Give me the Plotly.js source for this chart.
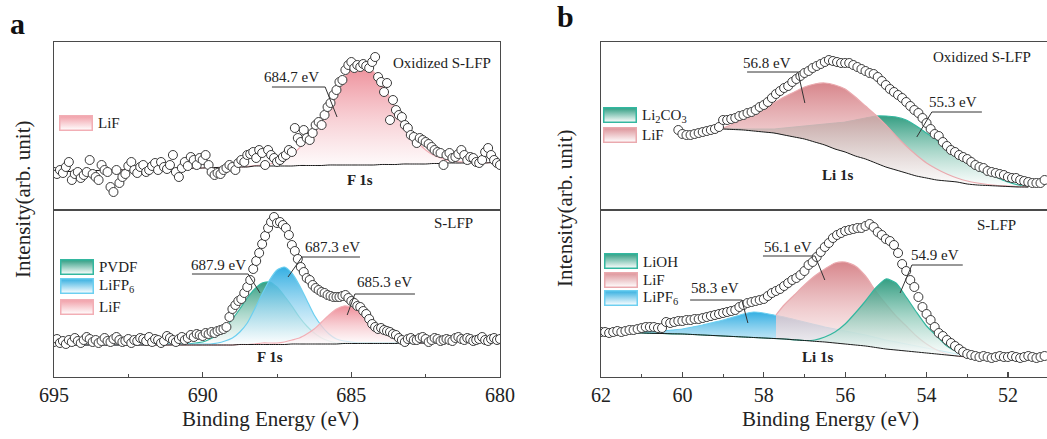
<!DOCTYPE html>
<html><head><meta charset="utf-8">
<script src="https://cdn.plot.ly/plotly-3.0.1.min.js"></script>
<style>html,body{margin:0;padding:0;background:#fff}#chart{width:1047px;height:439px}</style>
</head><body><div id="chart"></div>
<script>
const W = 1047, H = 439;
const FONT = "'Liberation Serif','Times New Roman',serif";

// ================= Panel a : F 1s =================
const aEnergyStart = 695;
const aEnergyStep = -0.1;
const aTopIntensity = [
 38,36,40,37,43,48,30,36,38,32,
 35,38,50,36,33,30,45,40,38,23,
 18,40,27,33,36,44,48,40,37,43,
 45,38,40,44,47,40,48,43,41,45,
 55,38,33,42,48,44,53,50,45,52,
 50,55,45,38,35,37,36,40,42,45,
 43,40,47,50,48,55,56,58,52,60,
 57,45,60,55,52,48,50,53,55,60,
 58,82,72,68,80,72,70,77,85,88,
 85,95,103,107,115,120,128,130,140,145,
 148,142,145,143,146,144,142,148,153,133,
 128,118,127,90,110,100,95,93,85,82,
 75,73,67,72,70,68,66,63,60,58,
 57,45,55,57,52,53,56,60,55,50,
 53,52,48,47,50,58,62,55,50,47,
 45];
const aBotIntensity = [
 35,38,34,36,33,37,35,39,36,34,
 37,40,38,35,37,34,36,39,36,35,
 38,40,37,35,36,38,34,37,36,39,
 38,36,40,35,38,37,34,36,41,39,
 37,35,38,40,37,39,42,40,43,42,
 41,44,43,45,44,46,47,48,50,60,
 68,72,76,78,84,90,97,108,116,124,
 133,141,149,155,160,154,155,152,149,142,
 132,126,118,110,105,99,97,92,89,87,
 85,84,82,81,80,80,80,81,82,79,
 76,74,71,70,66,63,58,53,50,48,
 49,47,46,45,43,42,39,37,35,38,
 39,37,37,39,40,38,35,37,39,38,
 36,37,38,37,36,39,40,38,37,39,
 38,36,37,38,40,37,36,38,39,37,
 38];
const aTopFitEnergy = [695,693,691,690,689,688.75,688.5,688.25,688,687.75,687.5,687.25,687,686.75,686.5,686.25,686,685.75,685.5,685.25,685,684.75,684.5,684.25,684,683.75,683.5,683.25,683,682.75,682.5,682.25,682,681.75,681.5,681.25,681,680.75,680.5,680.25,680];
const aTopBaseline = [38,40,41,42,43,43,43,44,44,44,44,44,44,44.5,44.5,44.5,44.5,45,45,45,45,45,45,45,45.5,45.5,45.5,46,46,46,46,46.5,46.5,47,47,47,47,47,47,47.5,47.5];
const aTopLiF = [38,40,41,42,43,43,43.5,44.5,45,46,48,51,55,62,70,81,94,108,121,132,141,145,144,138,128,115,101,88,76,67,60,55,52,49.5,48.5,48,47.5,47,47,47.5,47.5];

const aBotFitEnergy = [695,693,691,690.75,690.5,690.25,690,689.75,689.5,689.25,689,688.75,688.5,688.25,688,687.75,687.5,687.25,687,686.75,686.5,686.25,686,685.75,685.5,685.25,685,684.75,684.5,684.25,684,683.75,683.5,683.25,683,682.75,682.5,682.25,682];
const aBotBaseline = [32,32,32,32,32,32,32,32,32,32,32,32.5,32.5,32.5,32.5,32.5,32.5,32.5,33,33,33,33,33,33,33,33.5,33.5,33.5,33.5,33.5,33.5,33.5,33.5,34,34,34,34,34,34];
const aBotPVDF = [32,32,33,33,33,34,35,38,42,49,58,68,79,88,94,95,90,81,71,60,51,44,39,36,34,34,34,34,34,34,34,34,34,34,34,34,34,34,34];
const aBotLiFP6 = [32,32,33,33,33,33,33,33,34,36,39,45,54,68,83,97,107,110,104,92,77,62,51,43,38,36,35,34,34,34,34,34,34,34,34,34,34,34,34];
const aBotLiF = [32,32,32,32,32,32,32,32,32,32,32,32.5,32.5,33,34,34,34,35,37,39,43,48,55,62,68,71,70,67,61,54,47,42,38,36,35,34,34,34,34];

// ================= Panel b : Li 1s =================
const bTopEnergyStart = 60.1;
const bBotEnergyStart = 62.0;
const bEnergyStep = -0.1;
const bTopIntensity = [
 80,76,75,75,76,77,78,79,80,81,
 83,90,90,91,92,94,95,97,98,100,
 103,105,108,112,116,119,122,124,128,131,
 134,137,139,142,144,146,148,150,149,148,
 147,147,147,145,143,141,139,137,136,133,
 129,125,121,118,115,112,108,104,100,97,
 92,87,81,76,74,68,64,60,58,55,
 53,51,48,45,43,42,39,38,37,36,
 35,33,32,32,30,29,28,27,27,27,
 30];
const bBotIntensity = [
 45,45,44,45,46,45,46,47,47,48,
 49,50,50,50,49,49,55,54,55,56,
 56,57,57,58,58,59,60,61,62,63,
 64,65,66,67,70,72,74,75,76,77,
 78,81,84,86,88,91,94,97,99,102,
 106,112,115,120,125,130,134,139,142,144,
 146,147,148,149,149,151,153,150,145,142,
 138,136,132,124,113,106,97,90,80,70,
 63,57,50,44,41,37,34,31,28,25,
 23,22,21,20,21,20,19,20,21,20,
 20,21,20,19,20,21,20,19,20,21];
const bTopFitEnergy = [59,58.75,58.5,58.25,58,57.75,57.5,57.25,57,56.75,56.5,56.25,56,55.75,55.5,55.25,55,54.75,54.5,54.25,54,53.75,53.5,53.25,53,52.75,52.5,52.25,52,51.75,51.5];
const bTopBaseline = [81,80.5,80,79,78,77,75,73,71,68,65,61,58,54,51,47,43,40,37,34,32,30,29,28,26,25,24.5,24,23.5,23,23];
const bTopLiF = [82,86,91,96,101,107,113,118,123,126,127,125,121,113,104,95,85,74,64,55,47,41,36,32,29,27,25.5,24.5,24,23.5,23];
const bTopLi2CO3 = [82,81.5,81,81,81,81,82,83,84,85,86,87,88,90,92,94,94,93,90,84,77,70,61,54,47,40,36,32,28,25,23];

const bBotFitEnergy = [61.5,61.25,61,60.75,60.5,60.25,60,59.75,59.5,59.25,59,58.75,58.5,58.25,58,57.75,57.5,57.25,57,56.75,56.5,56.25,56,55.75,55.5,55.25,55,54.75,54.5,54.25,54,53.75,53.5,53.25,53];
const bBotBaseline = [44,44,44,43.7,43.5,43.2,43,42.5,42,41.5,41,40.5,40,39.5,39,38.5,38,37.2,36.5,35.7,35,34,33,32,31,29.5,28,27,26,25,24,23,22,21,20];
const bBotLiPF6 = [44,44.5,45,45.5,46,47,48,50,52,54.5,57,60,63,65,64,62,60,57.5,55,52.5,50,48,46,44,42,39.5,37,35,33,31,29,27,25,23,21];
const bBotLiOH = [44,44,44,43.7,43.5,43.2,43,42.5,42,41.5,41,40.5,40,39.5,39,38.5,38,37.2,36.5,37,40,45,53,64,76,89,98,94,80,65,51,41,31,25,21];
const bBotLiFEnergy = [57.7,57.5,57.25,57,56.75,56.5,56.25,56,55.75,55.5,55.25,55,54.75,54.5,54.25,54,53.75,53.5,53.25,53];
const bBotLiFBaseline = [38.4,38,37.2,36.5,35.7,35,34,33,32,31,29.5,28,27,26,25,24,23,22,21,20];
const bBotLiF = [62,72,82,92,101,108,114,115,111,101,86,73,61,51,41,33,27,23,21,20];

// ================= styling =================
const COL = {
  pink: {rgb:'236,132,144', mid:'246,196,202', edge:'#f2aeb5', sw:'#f19ea7'},
  rose: {rgb:'212,124,130', mid:'236,192,195', edge:'#eaa9ae', sw:'#dc9298'},
  teal: {rgb:'36,150,120',  mid:'150,206,190', edge:'#33b79f', sw:'#2f9d82'},
  blue: {rgb:'34,168,224',  mid:'150,213,240', edge:'#6ccff0', sw:'#35afe0'}
};
const px2x = p => p / W;
const py2y = p => 1 - p / H;

function compTraces(xs, ys, base, col, xa, ya) {
  const lo = Math.min.apply(null, base), hi = Math.max.apply(null, ys);
  return [
    {x: xs, y: base, mode:'lines', line:{width:0, shape:'spline', smoothing:0.6}, xaxis:xa, yaxis:ya, showlegend:false, hoverinfo:'skip'},
    {x: xs, y: ys, mode:'lines', line:{color:col.edge, width:1.2, shape:'spline', smoothing:0.6},
     fill:'tonexty', fillcolor:'rgba(' + col.mid + ',0.8)',
     fillgradient:{type:'vertical', start:lo, stop:hi,
       colorscale:[[0,'rgba(255,255,255,0.7)'],[0.5,'rgba(' + col.mid + ',0.8)'],[1,'rgba(' + col.rgb + ',0.92)']]},
     xaxis:xa, yaxis:ya, showlegend:false, hoverinfo:'skip'}
  ];
}
function baseLine(xs, base, xa, ya) {
  return {x: xs, y: base, mode:'lines', line:{color:'#1a1a1a', width:1, shape:'spline', smoothing:0.6}, xaxis:xa, yaxis:ya, showlegend:false, hoverinfo:'skip'};
}
function dataPts(x0, dx, ys, xa, ya) {
  return {x0: x0, dx: dx, y: ys, mode:'markers', xaxis:xa, yaxis:ya, showlegend:false, hoverinfo:'skip',
    marker:{symbol:'circle', size:9, color:'#ffffff', line:{color:'#3a3a3a', width:1}}};
}

const traces = [].concat(
  compTraces(aTopFitEnergy, aTopLiF, aTopBaseline, COL.pink, 'x', 'y'),
  [baseLine(aTopFitEnergy, aTopBaseline, 'x', 'y'), dataPts(aEnergyStart, aEnergyStep, aTopIntensity, 'x', 'y')],
  compTraces(aBotFitEnergy, aBotPVDF, aBotBaseline, COL.teal, 'x2', 'y2'),
  compTraces(aBotFitEnergy, aBotLiFP6, aBotBaseline, COL.blue, 'x2', 'y2'),
  compTraces(aBotFitEnergy, aBotLiF, aBotBaseline, COL.pink, 'x2', 'y2'),
  [baseLine(aBotFitEnergy, aBotBaseline, 'x2', 'y2'), dataPts(aEnergyStart, aEnergyStep, aBotIntensity, 'x2', 'y2')],
  compTraces(bTopFitEnergy, bTopLi2CO3, bTopBaseline, COL.teal, 'x3', 'y3'),
  compTraces(bTopFitEnergy, bTopLiF, bTopBaseline, COL.rose, 'x3', 'y3'),
  [baseLine(bTopFitEnergy, bTopBaseline, 'x3', 'y3'), dataPts(bTopEnergyStart, bEnergyStep, bTopIntensity, 'x3', 'y3')],
  compTraces(bBotFitEnergy, bBotLiPF6, bBotBaseline, COL.blue, 'x4', 'y4'),
  compTraces(bBotLiFEnergy, bBotLiF, bBotLiFBaseline, COL.rose, 'x4', 'y4'),
  compTraces(bBotFitEnergy, bBotLiOH, bBotBaseline, COL.teal, 'x4', 'y4'),
  [baseLine(bBotFitEnergy, bBotBaseline, 'x4', 'y4'), dataPts(bBotEnergyStart, bEnergyStep, bBotIntensity, 'x4', 'y4')]
);

// ---------- axes ----------
const LINE = '#4a4a4a';
const aDom = [54 / W, 500 / W], bDom = [601 / W, 1.0];
const topDom = [1 - 210 / H, 1 - 42 / H], botDom = [1 - 377 / H, 1 - 210 / H];
function frameX(dom, range, anchor, labels, dtick, minor) {
  const ax = {domain: dom, range: range, anchor: anchor, showline:true, mirror:true, linecolor:LINE, linewidth:1.3,
    showgrid:false, zeroline:false, fixedrange:true};
  if (labels) {
    Object.assign(ax, {ticks:'inside', ticklen:5, tickwidth:1.2, tickcolor:LINE, dtick:dtick, tick0:0,
      tickfont:{family:FONT, size:20, color:'#222'},
      minor:{dtick:minor, ticks:'inside', ticklen:3, tickwidth:1, tickcolor:LINE}});
  } else {
    Object.assign(ax, {ticks:'', showticklabels:false});
  }
  return ax;
}
function frameY(dom, range, anchor) {
  return {domain: dom, range: range, anchor: anchor, showline:true, mirror:true, linecolor:LINE, linewidth:1.3,
    showgrid:false, zeroline:false, ticks:'', showticklabels:false, fixedrange:true};
}

// ---------- peak labels ----------
const peakLabels = [
  {t:'684.7 eV', xa:'x',  ya:'y',  tx:687.0, ty:133, pts:[[687.67,123],[685.88,123],[685.48,93]]},
  {t:'687.9 eV', xa:'x2', ya:'y2', tx:689.48, ty:112, pts:[[690.36,103],[688.47,103],[688.07,84]]},
  {t:'687.3 eV', xa:'x2', ya:'y2', tx:685.62, ty:130, pts:[[684.71,120],[686.66,120],[687.13,100]]},
  {t:'685.3 eV', xa:'x2', ya:'y2', tx:683.87, ty:95,  pts:[[682.86,83],[684.88,83],[685.14,62]]},
  {t:'56.8 eV',  xa:'x3', ya:'y3', tx:57.92, ty:147, pts:[[58.41,138],[57.16,138],[56.99,107]]},
  {t:'55.3 eV',  xa:'x3', ya:'y3', tx:53.35, ty:108, pts:[[52.64,98],[53.87,98],[54.24,73]]},
  {t:'58.3 eV',  xa:'x4', ya:'y4', tx:59.2,  ty:89,  pts:[[59.81,77],[58.54,77],[58.39,54]]},
  {t:'56.1 eV',  xa:'x4', ya:'y4', tx:57.41, ty:130, pts:[[58.02,121],[56.74,121],[56.5,97]]},
  {t:'54.9 eV',  xa:'x4', ya:'y4', tx:53.79, ty:122, pts:[[53.11,112],[54.36,112],[54.65,84]]}
];
const cornerLabels = [
  {t:'Oxidized S-LFP', xa:'x',  ya:'y',  x:680.23, y:147, anchor:'right', bold:false},
  {t:'S-LFP',          xa:'x2', ya:'y2', x:680.84, y:154, anchor:'right', bold:false},
  {t:'Oxidized S-LFP', xa:'x3', ya:'y3', x:51.39,  y:153, anchor:'right', bold:false},
  {t:'S-LFP',          xa:'x4', ya:'y4', x:51.75,  y:152, anchor:'right', bold:false},
  {t:'F 1s',  xa:'x',  ya:'y',  x:684.71, y:30, anchor:'center', bold:true},
  {t:'F 1s',  xa:'x2', ya:'y2', x:687.73, y:20, anchor:'center', bold:true},
  {t:'Li 1s', xa:'x3', ya:'y3', x:56.18,  y:35, anchor:'center', bold:true},
  {t:'Li 1s', xa:'x4', ya:'y4', x:56.67,  y:20, anchor:'center', bold:true}
];
// legend entries: label, colour key, swatch top-left (px), text centre y (px)
const legendItems = [
  {t:'LiF', c:'pink', x:59, y:115, ty:123},
  {t:'PVDF', c:'teal', x:60, y:259, ty:267},
  {t:'LiFP<sub>6</sub>', c:'blue', x:60, y:278, ty:286},
  {t:'LiF', c:'pink', x:60, y:299, ty:307},
  {t:'Li<sub>2</sub>CO<sub>3</sub>', c:'teal', x:603, y:107, ty:116},
  {t:'LiF', c:'rose', x:603, y:127, ty:135},
  {t:'LiOH', c:'teal', x:604, y:253, ty:262},
  {t:'LiF', c:'rose', x:604, y:272, ty:280},
  {t:'LiPF<sub>6</sub>', c:'blue', x:604, y:290, ty:298}
];

function swatch(top, edge) {
  const svg = '<svg xmlns="http://www.w3.org/2000/svg" width="34" height="16" viewBox="0 0 34 16">' +
    '<defs><linearGradient id="g" x1="0" y1="0" x2="0" y2="1"><stop offset="0" stop-color="' + top + '"/>' +
    '<stop offset="1" stop-color="#ffffff"/></linearGradient></defs>' +
    '<rect x="0.75" y="0.75" width="32.5" height="14.5" fill="url(#g)" stroke="' + edge + '" stroke-width="1.5"/></svg>';
  return 'data:image/svg+xml;charset=utf-8,' + encodeURIComponent(svg);
}

const annotations = [], shapes = [], images = [];
peakLabels.forEach(p => {
  annotations.push({text:p.t, x:p.tx, y:p.ty, xref:p.xa, yref:p.ya, showarrow:false, xanchor:'center', yanchor:'middle',
    font:{family:FONT, size:15, color:'#222'}});
  shapes.push({type:'path', xref:p.xa, yref:p.ya, line:{color:'#333', width:1},
    path:'M' + p.pts.map(q => q[0] + ',' + q[1]).join('L')});
});
cornerLabels.forEach(c => {
  annotations.push({text: c.bold ? '<b>' + c.t + '</b>' : c.t, x:c.x, y:c.y, xref:c.xa, yref:c.ya, showarrow:false,
    xanchor:c.anchor, yanchor:'middle', font:{family:FONT, size:15, color:'#222'}});
});
legendItems.forEach(l => {
  images.push({source: swatch(COL[l.c].sw, COL[l.c].edge), xref:'paper', yref:'paper', x:px2x(l.x), y:py2y(l.y),
    sizex:34 / W, sizey:16 / H, xanchor:'left', yanchor:'top', sizing:'stretch', layer:'above'});
  annotations.push({text:l.t, x:px2x(l.x + 37), y:py2y(l.ty), xref:'paper', yref:'paper', showarrow:false,
    xanchor:'left', yanchor:'middle', font:{family:FONT, size:15, color:'#222'}});
});
// axis titles and panel letters
[270, 830].forEach(cx => {
  annotations.push({text:'Binding Energy (eV)', x:px2x(cx), y:py2y(419), xref:'paper', yref:'paper', showarrow:false,
    xanchor:'center', yanchor:'middle', font:{family:FONT, size:21, color:'#222'}});
});
[[23, 200], [565, 209]].forEach(([cx, cy]) => {
  annotations.push({text:'Intensity(arb. unit)', x:px2x(cx), y:py2y(cy), xref:'paper', yref:'paper', showarrow:false,
    textangle:-90, xanchor:'center', yanchor:'middle', font:{family:FONT, size:21, color:'#222'}});
});
annotations.push({text:'<b>a</b>', x:px2x(17), y:py2y(23), xref:'paper', yref:'paper', showarrow:false,
  xanchor:'center', yanchor:'middle', font:{family:FONT, size:30, color:'#111'}});
annotations.push({text:'<b>b</b>', x:px2x(565), y:py2y(17), xref:'paper', yref:'paper', showarrow:false,
  xanchor:'center', yanchor:'middle', font:{family:FONT, size:30, color:'#111'}});

const layout = {
  width: W, height: H, margin:{l:0, r:0, t:0, b:0}, paper_bgcolor:'#fff', plot_bgcolor:'#fff',
  showlegend:false, font:{family:FONT, color:'#222'},
  xaxis:  frameX(aDom, [695, 680], 'y', false),
  yaxis:  frameY(topDom, [0, 168], 'x'),
  xaxis2: frameX(aDom, [695, 680], 'y2', true, 5, 2.5),
  yaxis2: frameY(botDom, [0, 167], 'x2'),
  xaxis3: frameX(bDom, [62, 51.04], 'y3', false),
  yaxis3: frameY(topDom, [0, 168], 'x3'),
  xaxis4: frameX(bDom, [62, 51.04], 'y4', true, 2, 1),
  yaxis4: frameY(botDom, [0, 167], 'x4'),
  annotations: annotations, shapes: shapes, images: images
};
Plotly.newPlot('chart', traces, layout, {displayModeBar:false, staticPlot:true});
</script>
</body></html>
